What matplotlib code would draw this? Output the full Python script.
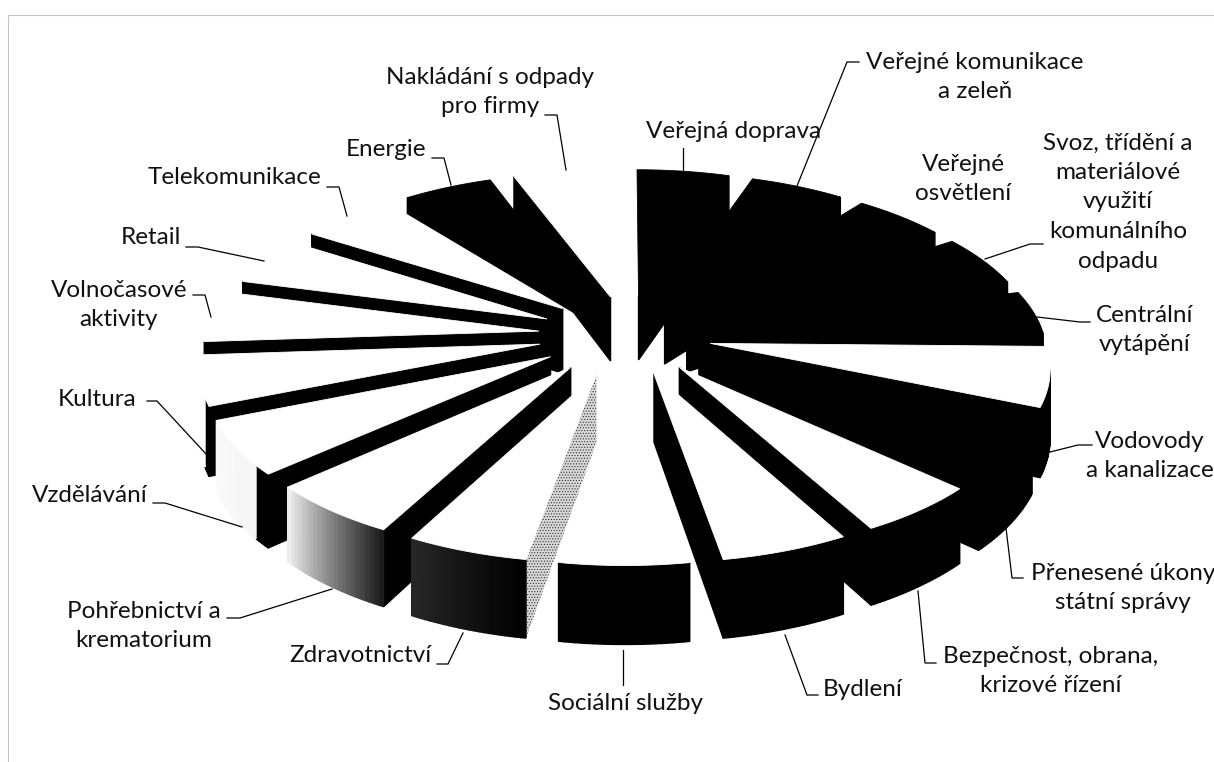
import numpy as np
import matplotlib
matplotlib.use("Agg")
import matplotlib.pyplot as plt

plt.rcParams["font.family"] = ["Lato", "DejaVu Sans"]
plt.rcParams["hatch.linewidth"] = 0.5

# clockwise from the top of the pie
names = ["Veřejná doprava", "Veřejné komunikace", "Veřejné osvětlení", "Svoz", "Centrální vytápění",
         "Vodovody", "Přenesené úkony", "Bezpečnost", "Bydlení", "Sociální služby",
         "Zdravotnictví", "Pohřebnictví", "Vzdělávání", "Kultura", "Volnočasové aktivity",
         "Retail", "Telekomunikace", "Energie", "Nakládání s odpady"]
values = [18.6, 19, 18.5, 19, 16, 22, 20, 18.5, 19, 19, 18, 20, 20, 18.5, 19, 18, 19, 18, 19.9]

top_colors = ["k"] * 5 + ["w", "k"] + ["w"] * 10 + ["k", "w"]
radial_colors = ["k"] * 19
# how far the side of each slice goes down, scan hides a lot of it
walls = [65, 65, 65, 65, 30, 66, 66, 66, 66, 66, 66, 66, 66, 66, 66, 66, 66, 18, 66]
arc_start = ["k"] * 10 + ["k", "#1c1c1c", "#f4f4f4", "w"] + ["k"] * 5
arc_end = ["k"] * 10 + ["#262626", "#ececec", "#fafafa", "w"] + ["k"] * 5
# quads of the outer side that stay black at the first corner
arc_black = {12: 4, 13: 4}
speckled_wall = 10

labels = ["Veřejná doprava", "Nakládání s odpady\npro firmy", "Veřejné komunikace\na zeleň",
          "Veřejné\nosvětlení", "Svoz, třídění a\nmateriálové\nvyužití\nkomunálního\nodpadu",
          "Centrální\nvytápění", "Vodovody\na kanalizace", "Přenesené úkony\nstátní správy",
          "Bezpečnost, obrana,\nkrizové řízení", "Bydlení", "Sociální služby", "Zdravotnictví",
          "Pohřebnictví a\nkrematorium", "Vzdělávání", "Kultura", "Volnočasové\naktivity",
          "Retail", "Telekomunikace", "Energie"]
label_x = [734, 490, 975, 963, 1118, 1145, 1150, 1123, 1051, 863, 626, 360, 144, 90, 97, 119, 151, 235, 386]
label_y = [132, 92, 77, 179, 202, 330, 456, 588, 671, 689, 704, 656, 626, 495, 400, 305, 237, 178, 150]

leaders = [
    [(683, 148), (683, 172)],
    [(545, 115), (557, 115), (566, 170)],
    [(859, 62), (847, 62), (797, 186)],
    [(1043, 244), (1030, 244), (985, 259)],
    [(1090, 322), (1080, 322), (1037, 317)],
    [(1092, 445), (1078, 445), (1042, 454)],
    [(1023, 578), (1012, 578), (1006, 528)],
    [(936, 663), (925, 663), (918, 591)],
    [(818, 695), (807, 695), (785, 635)],
    [(623, 650), (623, 685)],
    [(437, 664), (448, 664), (463, 633)],
    [(227, 618), (240, 618), (332, 589)],
    [(153, 503), (165, 503), (242, 527)],
    [(147, 401), (157, 401), (207, 455)],
    [(193, 295), (205, 295), (211, 317)],
    [(186, 247), (198, 247), (264, 261)],
    [(327, 187), (339, 187), (347, 216)],
    [(432, 158), (444, 158), (451, 185)],
]

cx, cy = 625, 335
ax_x, ax_y = 333, 153
persp = 0.13
explode = 0.26


def project(x, y, z=0):
    s = 1 / (1 - persp * y)
    return cx + ax_x * x * s, cy + ax_y * y * s + z * s


def side(ax, x0, y0, x1, y1, z, **kw):
    ua, va = project(x0, y0)
    ub, vb = project(x1, y1)
    uc, vc = project(x1, y1, z)
    ud, vd = project(x0, y0, z)
    ax.fill([ua, ub, uc, ud], [va, vb, vc, vd], **kw)


fig = plt.figure(figsize=(12.14, 7.62), dpi=100)
ax = fig.add_axes([0, 0, 1, 1])
ax.set_xlim(0, 1214)
ax.set_ylim(762, 0)
ax.axis("off")

ax.plot([8, 8, 1214], [762, 15, 15], color="#c4c4c4", lw=0.8)

edges = np.radians(np.concatenate([[0], np.cumsum(values)]) / sum(values) * 360)
mids = (edges[:-1] + edges[1:]) / 2

# back to front
for i in np.argsort(-np.cos(mids)):
    ox, oy = explode * np.sin(mids[i]), -explode * np.cos(mids[i])
    th = np.linspace(edges[i], edges[i + 1], 24)
    xs = ox + np.sin(th)
    ys = oy - np.cos(th)
    z = walls[i]

    # only the cut faces turned to the viewer
    if edges[i] > np.pi:
        if i == speckled_wall:
            side(ax, ox, oy, xs[0], ys[0], z, facecolor="#d8d8d8", edgecolor="#333333",
                 hatch="......", lw=0)
        else:
            side(ax, ox, oy, xs[0], ys[0], z, facecolor=radial_colors[i],
                 edgecolor=radial_colors[i], lw=1)
    if edges[i + 1] < np.pi:
        side(ax, ox, oy, xs[-1], ys[-1], z, facecolor=radial_colors[i],
             edgecolor=radial_colors[i], lw=1)

    # outer side, shaded from one end to the other
    c0 = matplotlib.colors.to_rgb(arc_start[i])
    c1 = matplotlib.colors.to_rgb(arc_end[i])
    for k in range(len(th) - 1):
        mid = (th[k] + th[k + 1]) / 2
        if np.cos(mid) > -0.17:
            continue
        t = k / (len(th) - 2)
        col = [c0[c] * (1 - t) + c1[c] * t for c in range(3)]
        if k < arc_black.get(i, 0):
            col = "k"
        side(ax, xs[k], ys[k], xs[k + 1], ys[k + 1], z, facecolor=col, edgecolor=col, lw=1)

    u, v = project(np.concatenate([[ox], xs]), np.concatenate([[oy], ys]))
    ax.fill(u, v, facecolor=top_colors[i], edgecolor=top_colors[i], lw=0.6)

for line in leaders:
    px, py = zip(*line)
    ax.plot(px, py, color="k", lw=0.9, solid_joinstyle="miter")

for text, x, y in zip(labels, label_x, label_y):
    ax.text(x, y, text, ha="center", va="center", fontsize=17.5, color="#111111", linespacing=1.5)

fig.savefig("out.png", dpi=100)
